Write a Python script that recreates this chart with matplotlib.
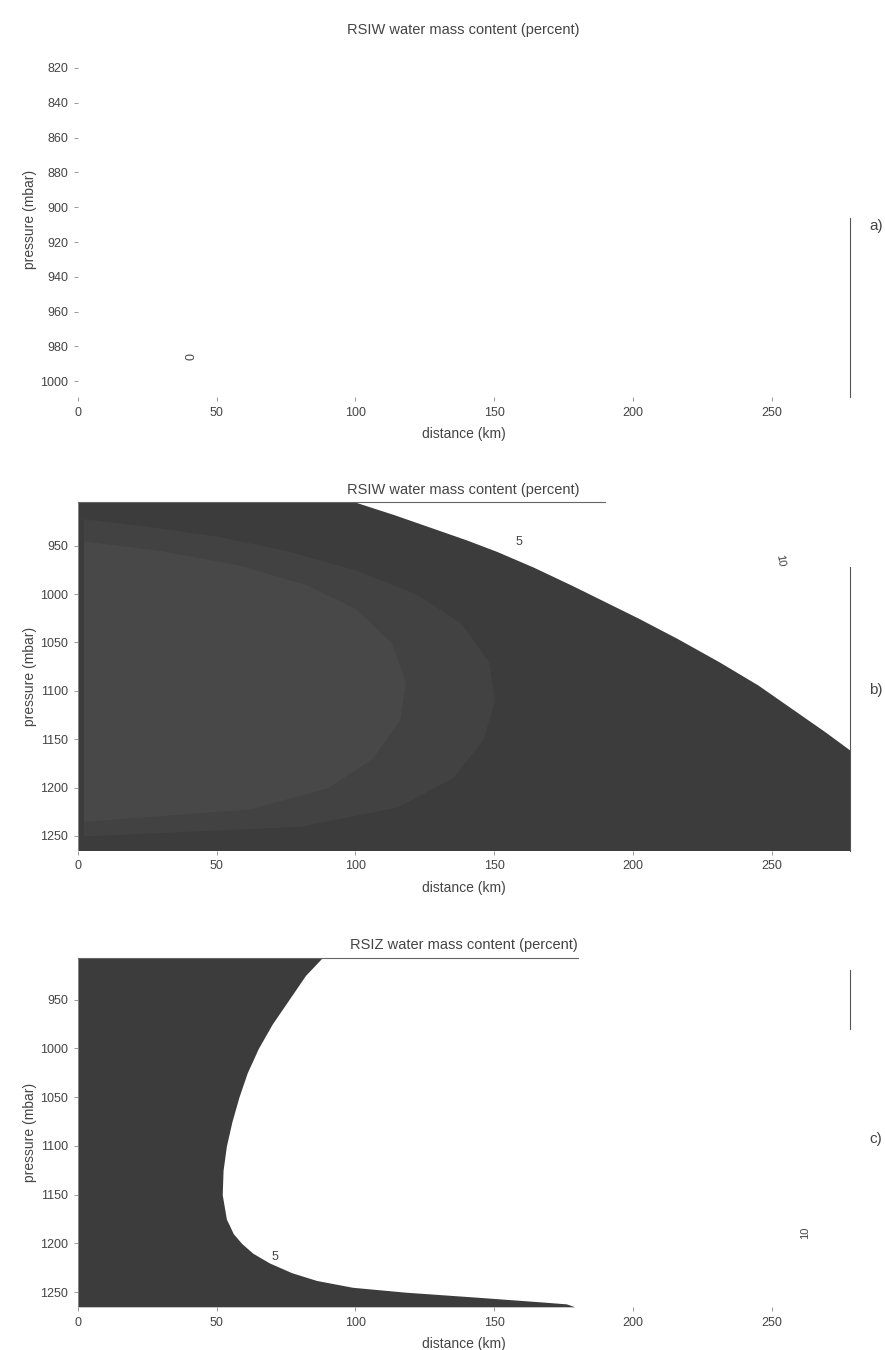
import numpy as np
import matplotlib
matplotlib.use("Agg")
import matplotlib.pyplot as plt

plt.rcParams["font.family"] = ["Liberation Sans", "DejaVu Sans"]

# axis ticks
dist_ticks = [0, 50, 100, 150, 200, 250]
pres_ticks_a = [820, 840, 860, 880, 900, 920, 940, 960, 980, 1000]
pres_ticks_bc = [950, 1000, 1050, 1100, 1150, 1200, 1250]

# panel b: 5 % contour (outer edge of the dark area)
b_pres = [905, 918, 932, 944, 956, 972, 991, 1008, 1025, 1046, 1070, 1094, 1122, 1142, 1161, 1265]
b_dist = [100, 114, 128, 140, 151, 164, 178, 190, 202, 216, 231, 245, 259, 269, 278, 278]

# panel b: slightly lighter core (two shades)
b_core1_pres = [922, 930, 940, 955, 975, 1000, 1030, 1070, 1110, 1150, 1190, 1220, 1240, 1250]
b_core1_dist = [2, 25, 50, 75, 100, 122, 138, 148, 150, 146, 135, 115, 80, 2]
b_core2_pres = [945, 955, 970, 990, 1015, 1050, 1090, 1130, 1170, 1200, 1222, 1235]
b_core2_dist = [2, 30, 58, 82, 100, 113, 118, 116, 106, 90, 62, 2]

# panel c: 5 % contour
c_pres = [907, 925, 950, 975, 1000, 1025, 1050, 1075, 1100, 1125, 1150, 1175, 1190,
          1200, 1210, 1220, 1230, 1238, 1245, 1250, 1255, 1260, 1262, 1265]
c_dist = [88, 82, 76, 70, 65, 61, 58, 55.5, 53.5, 52.3, 52, 53.5, 56,
          59, 63, 69, 77, 86, 99, 118, 143, 167, 176, 179]

titles = ["RSIW water mass content (percent)",
          "RSIW water mass content (percent)",
          "RSIZ water mass content (percent)"]
panel_tags = ["a)", "b)", "c)"]
tag_y = [0.47, 0.45, 0.47]

dark = "#3c3c3c"
txt = "#444444"

fig = plt.figure(figsize=(8.85, 13.5), dpi=100)
ax_a = fig.add_axes([0.088, 0.706, 0.872, 0.263])
ax_b = fig.add_axes([0.088, 0.370, 0.872, 0.258])
ax_c = fig.add_axes([0.088, 0.032, 0.872, 0.2585])

for ax, title, tag, ty in zip([ax_a, ax_b, ax_c], titles, panel_tags, tag_y):
    ax.set_xlim(0, 278)
    ax.set_xticks(dist_ticks)
    ax.set_title(title, fontsize=10.5, color=txt, pad=6)
    ax.set_xlabel("distance (km)", fontsize=10, color=txt, labelpad=6)
    ax.set_ylabel("pressure (mbar)", fontsize=10, color=txt, labelpad=2)
    ax.tick_params(labelsize=9, colors="#888888", labelcolor=txt, length=3, width=0.6, pad=4)
    for s in ax.spines.values():
        s.set_visible(False)
    ax.text(1.025, ty, tag, transform=ax.transAxes, fontsize=11, color=txt)

# panel a: nothing above 0 %
ax_a.set_ylim(1009, 805)
ax_a.set_yticks(pres_ticks_a)
ax_a.text(41, 986, "0", fontsize=9, color=txt, rotation=90, ha="center", va="center")
ax_a.spines["right"].set_visible(True)
ax_a.spines["right"].set_bounds(906, 1009)
ax_a.spines["right"].set_color("#555555")
ax_a.spines["right"].set_linewidth(0.8)

# panel b
ax_b.set_ylim(1265, 905)
ax_b.set_yticks(pres_ticks_bc)
ax_b.fill_betweenx(b_pres, 0, b_dist, color=dark, lw=0)
ax_b.fill_betweenx(b_core1_pres, 2, b_core1_dist, color="#424242", lw=0)
ax_b.fill_betweenx(b_core2_pres, 2, b_core2_dist, color="#484848", lw=0)
ax_b.text(159, 946, "5", fontsize=9, color=txt, ha="center", va="center")
ax_b.text(253, 965, "10", fontsize=8, color=txt, rotation=-80, ha="center", va="center")
ax_b.spines["top"].set_visible(True)
ax_b.spines["top"].set_bounds(0, 190)
ax_b.spines["top"].set_color("#666666")
ax_b.spines["right"].set_visible(True)
ax_b.spines["right"].set_bounds(972, 1265)
ax_b.spines["right"].set_color("#555555")
ax_b.spines["right"].set_linewidth(0.8)

# panel c
ax_c.set_ylim(1265, 907)
ax_c.set_yticks(pres_ticks_bc)
ax_c.fill_betweenx(c_pres, 0, c_dist, color=dark, lw=0)
ax_c.text(71, 1214, "5", fontsize=9, color=txt, ha="center", va="center")
ax_c.text(262, 1189, "10", fontsize=8, color=txt, rotation=90, ha="center", va="center")
ax_c.spines["top"].set_visible(True)
ax_c.spines["top"].set_bounds(0, 180)
ax_c.spines["top"].set_color("#666666")
ax_c.spines["right"].set_visible(True)
ax_c.spines["right"].set_bounds(919, 980)
ax_c.spines["right"].set_color("#555555")
ax_c.spines["right"].set_linewidth(0.8)

fig.savefig("out.png", dpi=100, facecolor="white")
